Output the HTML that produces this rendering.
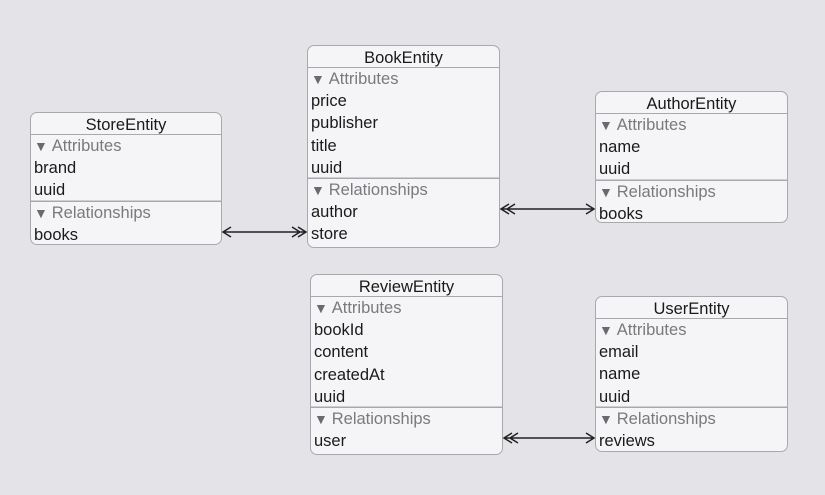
<!DOCTYPE html>
<html><head><style>
body{margin:0;width:825px;height:495px;background:#e4e4e8;position:relative;overflow:hidden;font-family:"Liberation Sans",sans-serif;}
.b{position:absolute;background:#f5f5f7;border:1.5px solid #a9a9ad;border-radius:7px;box-sizing:border-box;overflow:hidden;}
.h{height:19px;padding-top:2px;line-height:21px;text-align:center;font-size:16.5px;color:#1a1a1a;border-bottom:1.5px solid #a9a9ad;}
.r{height:22.2px;line-height:22.2px;font-size:16.5px;color:#1a1a1a;padding-left:3px;white-space:nowrap;}
.s{color:#7a7a7e;}
.s::before{content:"▼ ";font-size:14px;color:#6a6a6e;}
.sep{box-shadow:0 -1.5px 0 #a9a9ad;}
</style></head><body>
<div class="b" style="left:30px;top:112px;width:192px;height:133px">
<div class="h">StoreEntity</div>
<div class="r s">Attributes</div><div class="r">brand</div><div class="r">uuid</div>
<div class="r s sep">Relationships</div><div class="r">books</div></div>

<div class="b" style="left:307px;top:45px;width:193px;height:203px">
<div class="h">BookEntity</div>
<div class="r s">Attributes</div><div class="r">price</div><div class="r">publisher</div><div class="r">title</div><div class="r">uuid</div>
<div class="r s sep">Relationships</div><div class="r">author</div><div class="r">store</div></div>

<div class="b" style="left:595px;top:91px;width:193px;height:132px">
<div class="h">AuthorEntity</div>
<div class="r s">Attributes</div><div class="r">name</div><div class="r">uuid</div>
<div class="r s sep">Relationships</div><div class="r">books</div></div>

<div class="b" style="left:310px;top:274px;width:193px;height:181px">
<div class="h">ReviewEntity</div>
<div class="r s">Attributes</div><div class="r">bookId</div><div class="r">content</div><div class="r">createdAt</div><div class="r">uuid</div>
<div class="r s sep">Relationships</div><div class="r">user</div></div>

<div class="b" style="left:595px;top:296px;width:193px;height:156px">
<div class="h">UserEntity</div>
<div class="r s">Attributes</div><div class="r">email</div><div class="r">name</div><div class="r">uuid</div>
<div class="r s sep">Relationships</div><div class="r">reviews</div></div>

<svg width="825" height="495" style="position:absolute;left:0;top:0" fill="none" stroke="#222" stroke-width="1.5">
<path d="M223 232H306M231 227L223 232L231 237M298 227L306 232L298 237M292 227L300 232L292 237"/>
<path d="M501 209H594M509 204L501 209L509 214M515 204L507 209L515 214M586 204L594 209L586 214"/>
<path d="M504 438H594M512 433L504 438L512 443M518 433L510 438L518 443M586 433L594 438L586 443"/>
</svg>
</body></html>
